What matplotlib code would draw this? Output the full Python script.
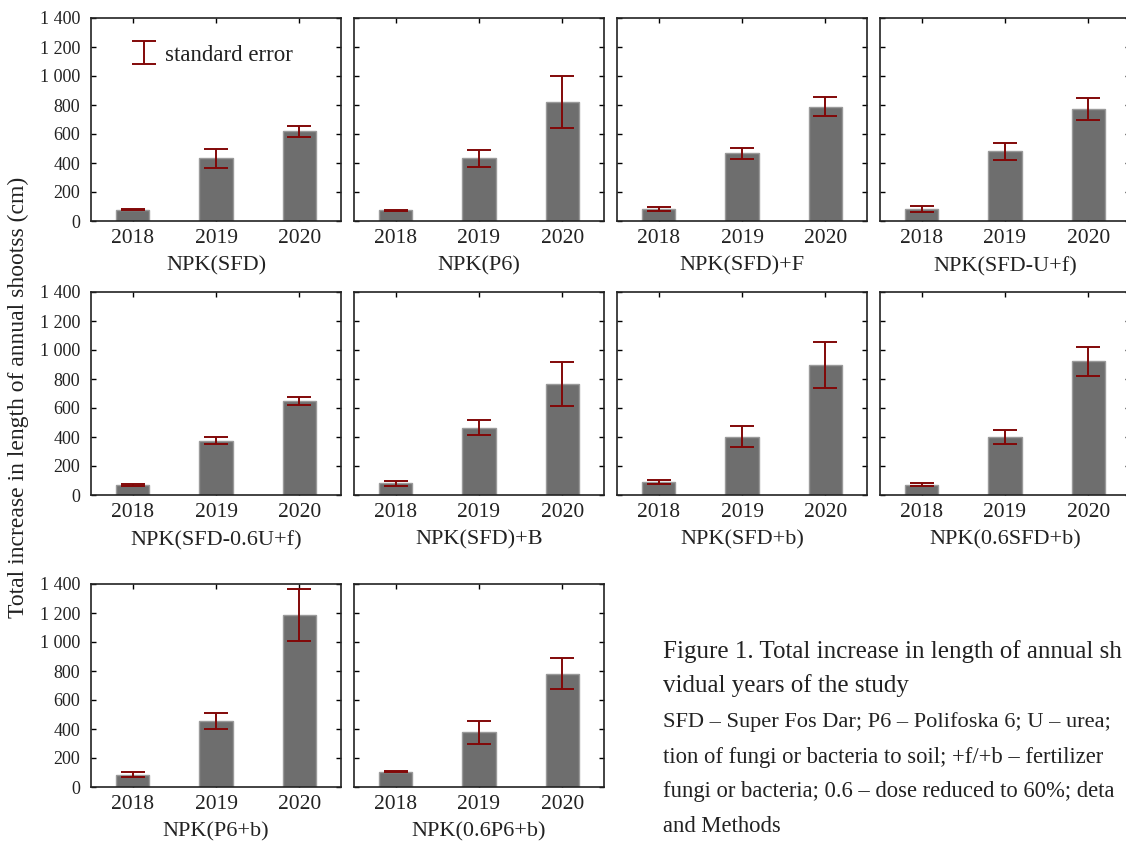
import numpy as np
import matplotlib
matplotlib.use("Agg")
from matplotlib import pyplot as plt

plt.rcParams['font.family'] = ['Liberation Serif', 'DejaVu Serif']

years = ["2018", "2019", "2020"]
treatments = ["NPK(SFD)", "NPK(P6)", "NPK(SFD)+F", "NPK(SFD-U+f)",
              "NPK(SFD-0.6U+f)", "NPK(SFD)+B", "NPK(SFD+b)", "NPK(0.6SFD+b)",
              "NPK(P6+b)", "NPK(0.6P6+b)"]
# mean total increase (cm) per year
means = [[78, 433, 618],
         [74, 432, 820],
         [81, 467, 788],
         [80, 480, 775],
         [71, 373, 650],
         [80, 464, 768],
         [88, 402, 898],
         [71, 402, 924],
         [84, 455, 1184],
         [106, 377, 780]]
se = [[5, 66, 36],
      [3, 58, 180],
      [13, 36, 64],
      [21, 56, 76],
      [8, 24, 27],
      [16, 52, 152],
      [15, 72, 157],
      [10, 47, 100],
      [18, 54, 180],
      [4, 77, 107]]
yticks = [0, 200, 400, 600, 800, 1000, 1200, 1400]
ytick_labels = ["0", "200", "400", "600", "800", "1 000", "1 200", "1 400"]

# caption as visible in the page crop
caption = [
    ("Figure 1. Total increase in length of annual sh", 18),
    ("vidual years of the study", 18),
    ("SFD – Super Fos Dar; P6 – Polifoska 6; U – urea;", 16.1),
    ("tion of fungi or bacteria to soil; +f/+b – fertilizer", 16.3),
    ("fungi or bacteria; 0.6 – dose reduced to 60%; deta", 16.3),
    ("and Methods", 16.3),
]

W, H = 1126, 841
fig = plt.figure(figsize=(W / 100, H / 100), dpi=100)

col_left = [91, 354, 617, 880]
row_top = [18, 292, 584]
aw, ah = 250, 203

x = np.arange(len(years))
for k, name in enumerate(treatments):
    r, c = divmod(k, 4)
    ax = fig.add_axes([col_left[c] / W, 1 - (row_top[r] + ah) / H, aw / W, ah / H])
    ax.bar(x, means[k], width=0.4, color='#6e6e6e', edgecolor='#9a9a9a', linewidth=1, zorder=2)
    eb = ax.errorbar(x, means[k], yerr=se[k], fmt='none', ecolor='#820808',
                     elinewidth=1.4, capsize=8.5, capthick=1.4, zorder=3,
                     label='standard error')
    ax.set_xlim(-0.5, 2.5)
    ax.set_ylim(0, 1400)
    ax.set_xticks(x)
    ax.set_xticklabels(years, fontsize=15.5, color='#222222')
    ax.set_yticks(yticks)
    if c == 0:
        ax.set_yticklabels(ytick_labels, fontsize=13, color='#222222')
    else:
        ax.set_yticklabels([])
    ax.tick_params(direction='in', length=3.5, width=1, top=True, right=True)
    ax.tick_params(axis='x', pad=6)
    ax.tick_params(axis='y', pad=8)
    for s in ax.spines.values():
        s.set_linewidth(1.2)
        s.set_color('#222222')
    ax.set_xlabel(name, fontsize=16, color='#222222', labelpad=6)
    if k == 0:
        ax.legend(handles=[eb], loc='upper left', bbox_to_anchor=(0.096, 0.97),
                  frameon=False, fontsize=16.5, handlelength=0.7, handletextpad=0.6,
                  labelcolor='#222222')

fig.text(18 / W, 1 - 397 / H, "Total increase in length of annual shootss (cm)",
         rotation=90, ha='center', va='center', fontsize=17, color='#222222')

line_y = [652, 686, 722, 757, 791, 826]
for (txt, fs), yy in zip(caption, line_y):
    fig.text(663 / W, 1 - yy / H, txt, ha='left', va='center', fontsize=fs, color='#222222')

fig.savefig("out.png", dpi=100)
